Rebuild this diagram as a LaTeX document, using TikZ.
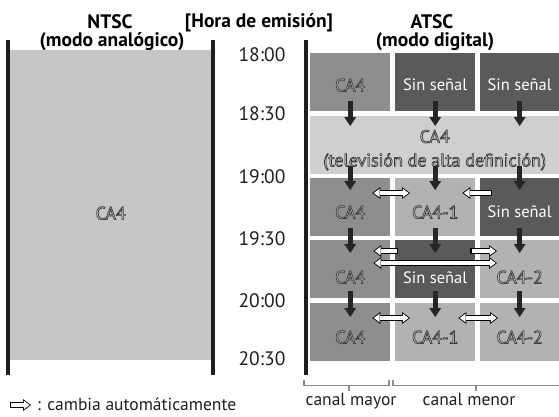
\documentclass[tikz,border=0pt]{standalone}
\usepackage{fontspec}
\setmainfont{PT Sans}
\usetikzlibrary{arrows.meta}
\definecolor{ntscfill}{HTML}{C6C6C6}
\definecolor{majfill}{HTML}{8E8E8E}
\definecolor{darkfill}{HTML}{5A5A5A}
\definecolor{lightfill}{HTML}{B2B2B2}
\definecolor{hdfill}{HTML}{CFCFCF}
\definecolor{barcol}{HTML}{1E1E1E}
\definecolor{brkcol}{HTML}{8C8C8C}
\definecolor{ctext}{HTML}{D6D6D6}
\definecolor{arrcol}{HTML}{262626}
\newcommand\outlinetext[1]{\special{pdf:literal direct 2 Tr 0.7 w 0.22 G}#1\special{pdf:literal direct 0 Tr}}
\tikzset{
  btip/.tip={Triangle[width=12pt,length=8pt,line width=0pt]},
  wtip/.tip={Triangle[width=8.6pt,length=5.8pt,line width=0pt]},
  dtip/.tip={Triangle[width=12pt,length=9pt,line width=0pt]},
}
\begin{document}
\begin{tikzpicture}[x=1pt,y=-1pt,
  hdr/.style={font=\bfseries\fontsize{19.5}{22}\selectfont, inner sep=0pt, anchor=base},
  tlabel/.style={font=\fontsize{19.5}{22}\selectfont, text=black!88, inner sep=0pt},
  cell/.style={anchor=north west, inner sep=0pt, minimum height=58pt, minimum width=80pt},
  major/.style={cell, fill=majfill},
  dark/.style={cell, fill=darkfill},
  light/.style={cell, fill=lightfill},
  ctxt/.style={font=\fontsize{18}{23.5}\selectfont, text=ctext, inner sep=0pt, align=center},
  wtxt/.style={font=\fontsize{16.5}{20}\selectfont, text=white, inner sep=0pt},
  bar/.style={draw=barcol, line width=3.2pt},
  brk/.style={draw=brkcol, line width=1.6pt},
  darr/.style={draw=arrcol, line width=5pt, -dtip},
  wboth/.style={draw=black, line width=5.4pt, btip-btip,
    postaction={draw=white, line width=3.2pt, wtip-wtip, shorten <=1.4pt, shorten >=1.4pt}},
  wone/.style={draw=black, line width=5.4pt, -btip,
    postaction={draw=white, line width=3.2pt, -wtip, shorten <=1.1pt, shorten >=1.4pt}},
  lbl/.style={font=\fontsize{17.5}{20}\selectfont, text=black!88, inner sep=0pt, anchor=base},
]
\useasboundingbox (0,0) rectangle (559,416);

% headers
\node[hdr] (ntsc) at (110,28) {NTSC};
\node[hdr] (ntscm) at (112,46) {(modo analógico)};
\node[hdr] (hora) at (259,27) {[Hora de emisión]};
\node[hdr] (atsc) at (432,28) {ATSC};
\node[hdr] (atscm) at (435,46) {(modo digital)};

% NTSC column
\node[anchor=north west, fill=ntscfill, inner sep=0pt, minimum width=201pt, minimum height=310pt,
  label={[ctxt, yshift=-8pt]center:\outlinetext{CA4}}] (ntscbox) at (10,50) {};
\draw[bar] (8,40) -- (8,375);
\draw[bar] (213,40) -- (213,375);
\draw[bar] (306,40) -- (306,375);

% times
\node[tlabel] (t1) at (262,55) {18:00};
\node[tlabel] (t2) at (262,114) {18:30};
\node[tlabel] (t3) at (262,177) {19:00};
\node[tlabel] (t4) at (262,239) {19:30};
\node[tlabel] (t5) at (262,301) {20:00};
\node[tlabel] (t6) at (262,359) {20:30};

% ATSC cells
\node[major, label={[ctxt, yshift=-3pt]center:\outlinetext{CA4}}] (r1c1) at (310,53) {};
\node[dark,  label={[wtxt, yshift=-3pt]center:Sin señal}] (r1c2) at (395,53) {};
\node[dark, minimum width=79pt, label={[wtxt, yshift=-3pt]center:Sin señal}] (r1c3) at (480,53) {};

\node[cell, fill=hdfill, minimum width=249pt,
  label={[ctxt, yshift=-5pt]center:\outlinetext{CA4}\\\outlinetext{(televisión de alta definición)}}] (r2) at (310,116) {};

\node[major, label={[ctxt, yshift=-5pt]center:\outlinetext{CA4}}] (r3c1) at (310,178) {};
\node[light, label={[ctxt, yshift=-5pt]center:\outlinetext{CA4-1}}] (r3c2) at (395,178) {};
\node[dark, minimum width=79pt, label={[wtxt, yshift=-5pt]center:Sin señal}] (r3c3) at (480,178) {};

\node[major, label={[ctxt, yshift=-8pt]center:\outlinetext{CA4}}] (r4c1) at (310,240) {};
\node[dark,  label={[wtxt, yshift=-8pt]center:Sin señal}] (r4c2) at (395,240) {};
\node[light, minimum width=79pt, label={[ctxt, yshift=-8pt]center:\outlinetext{CA4-2}}] (r4c3) at (480,240) {};

\node[major, label={[ctxt, yshift=-5pt]center:\outlinetext{CA4}}] (r5c1) at (310,303) {};
\node[light, label={[ctxt, yshift=-5pt]center:\outlinetext{CA4-1}}] (r5c2) at (395,303) {};
\node[light, minimum width=79pt, label={[ctxt, yshift=-5pt]center:\outlinetext{CA4-2}}] (r5c3) at (480,303) {};

% band reference points
\coordinate (b1n) at (r2.north -| r1c1);
\coordinate (b2n) at (r2.north -| r1c2);
\coordinate (b3n) at (r2.north -| r1c3);
\coordinate (b1s) at (r2.south -| r3c1);
\coordinate (b2s) at (r2.south -| r3c2);
\coordinate (b3s) at (r2.south -| r3c3);

% vertical arrows
\draw[darr] ([yshift=10pt]r1c1.south) -- ([yshift=-10pt]b1n);
\draw[darr] ([yshift=10pt]r1c2.south) -- ([yshift=-10pt]b2n);
\draw[darr] ([yshift=10pt]r1c3.south) -- ([yshift=-10pt]b3n);
\draw[darr] ([yshift=8pt]b1s) -- ([yshift=-12pt]r3c1.north);
\draw[darr] ([yshift=8pt]b2s) -- ([yshift=-12pt]r3c2.north);
\draw[darr] ([yshift=8pt]b3s) -- ([yshift=-12pt]r3c3.north);
\draw[darr] ([yshift=8pt]r3c1.south) -- ([yshift=-13pt]r4c1.north);
\draw[darr] ([yshift=8pt]r3c2.south) -- ([yshift=-13pt]r4c2.north);
\draw[darr] ([yshift=8pt]r3c3.south) -- ([yshift=-13pt]r4c3.north);
\draw[darr] ([yshift=7pt]r4c1.south) -- ([yshift=-14pt]r5c1.north);
\draw[darr] ([yshift=7pt]r4c2.south) -- ([yshift=-14pt]r5c2.north);
\draw[darr] ([yshift=7pt]r4c3.south) -- ([yshift=-14pt]r5c3.north);

% horizontal switch arrows
\draw[wboth] ([xshift=-18pt,yshift=-15pt]r3c1.north east) -- ([xshift=15pt,yshift=-15pt]r3c2.north west);
\draw[wone]  ([xshift=12pt,yshift=-15pt]r3c3.north west) -- ([xshift=-13pt,yshift=-15pt]r3c2.north east);
\draw[wone]  ([xshift=3pt,yshift=-11pt]r4c2.north west) -- ([xshift=-17pt,yshift=-11pt]r4c1.north east);
\draw[wone]  ([xshift=-5pt,yshift=-11pt]r4c2.north east) -- ([xshift=17pt,yshift=-11pt]r4c3.north west);
\draw[wboth] ([xshift=-17pt,yshift=-23pt]r4c1.north east) -- ([xshift=17pt,yshift=-23pt]r4c3.north west);
\draw[wboth] ([xshift=-18pt,yshift=-15pt]r5c1.north east) -- ([xshift=15pt,yshift=-15pt]r5c2.north west);
\draw[wboth] ([xshift=-17pt,yshift=-15pt]r5c2.north east) -- ([xshift=18pt,yshift=-15pt]r5c3.north west);

% channel brackets
\draw[brk] (304,380) -- (304,385.5) -- (389,385.5) -- (389,380);
\draw[brk] (349,385.5) -- (349,391);
\draw[brk] (393,380) -- (393,385.5) -- (565,385.5);
\draw[brk] (476,385.5) -- (476,391);
\node[lbl] (cmayor) at (351,405) {canal mayor};
\node[lbl] (cmenor) at (469,405) {canal menor};

% legend
\coordinate (lga) at (10,405);
\coordinate (lgb) at (31,405);
\draw[wone] (lga) -- (lgb);
\node[lbl, anchor=base west] (legend) at (37,410.5) {: cambia automáticamente};
\end{tikzpicture}
\end{document}
